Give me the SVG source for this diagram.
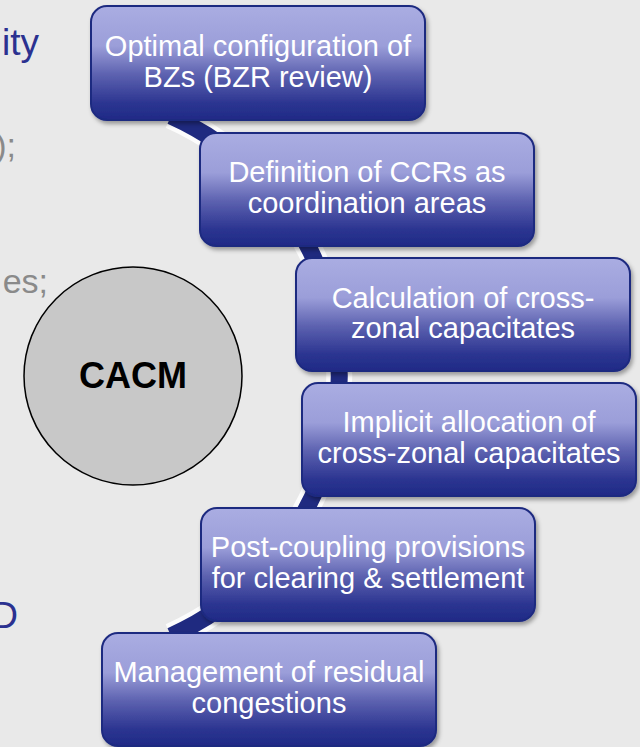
<svg xmlns="http://www.w3.org/2000/svg" width="640" height="747" viewBox="0 0 640 747">
<defs>
<linearGradient id="boxGrad" x1="0" y1="0" x2="0" y2="1">
<stop offset="0" stop-color="#aaade2"/>
<stop offset="0.35" stop-color="#9b9ed9"/>
<stop offset="0.6" stop-color="#5d62b0"/>
<stop offset="0.85" stop-color="#2c3591"/>
<stop offset="1" stop-color="#1f2a86"/>
</linearGradient>
<filter id="shadow" x="-10%" y="-10%" width="120%" height="130%">
<feDropShadow dx="2" dy="3" stdDeviation="2" flood-color="#000" flood-opacity="0.35"/>
</filter>
</defs>
<style>
.box{fill:url(#boxGrad);stroke:#1f2a80;stroke-width:2;filter:url(#shadow)}
.bt{font-family:"Liberation Sans",Arial,sans-serif;font-size:29px;fill:#ffffff;text-anchor:middle}
.blue{font-family:"Liberation Sans",Arial,sans-serif;font-size:37px;fill:#2b3190;text-anchor:end}
.gray{font-family:"Liberation Sans",Arial,sans-serif;font-size:34px;fill:#8a8a8a;text-anchor:end}
</style>
<rect width="640" height="747" fill="#e9e9e9"/>
<g id="background-text">
<text class="blue" x="39" y="55">ity</text>
<text class="gray" x="16" y="157">);</text>
<text class="gray" x="48" y="293">es;</text>
<text class="blue" x="18" y="628">D</text>
</g>
<g id="cacm">
<circle cx="133" cy="376" r="109" fill="#c8c8c8" stroke="#000" stroke-width="1.5"/>
<text x="133" y="388" font-family="'Liberation Sans',Arial,sans-serif" font-size="36" font-weight="bold" fill="#000" text-anchor="middle">CACM</text>
</g>
<g id="connectors">
<path d="M171,116 A285,285 0 0,1 171,636" fill="none" stroke="#ffffff" stroke-opacity="0.85" stroke-width="26"/>
<path d="M171,116 A285,285 0 0,1 171,636" fill="none" stroke="#1f2a80" stroke-width="17"/>
</g>
<g id="node1">
<rect class="box" x="91" y="6" width="334" height="114" rx="16"/>
<text class="bt" x="258" y="56">Optimal configuration of</text>
<text class="bt" x="258" y="87">BZs (BZR review)</text>
</g>
<g id="node2">
<rect class="box" x="200" y="133" width="334" height="113" rx="16"/>
<text class="bt" x="367" y="182">Definition of CCRs as</text>
<text class="bt" x="367" y="213">coordination areas</text>
</g>
<g id="node3">
<rect class="box" x="296" y="258" width="334" height="113" rx="16"/>
<text class="bt" x="463" y="308">Calculation of cross-</text>
<text class="bt" x="463" y="338">zonal capacitates</text>
</g>
<g id="node4">
<rect class="box" x="302" y="383" width="334" height="113" rx="16"/>
<text class="bt" x="469" y="432">Implicit allocation of</text>
<text class="bt" x="469" y="463">cross-zonal capacitates</text>
</g>
<g id="node5">
<rect class="box" x="201" y="508" width="334" height="113" rx="16"/>
<text class="bt" x="368" y="557">Post-coupling provisions</text>
<text class="bt" x="368" y="588">for clearing &amp; settlement</text>
</g>
<g id="node6">
<rect class="box" x="102" y="633" width="334" height="113" rx="16"/>
<text class="bt" x="269" y="682">Management of residual</text>
<text class="bt" x="269" y="713">congestions</text>
</g>
</svg>
